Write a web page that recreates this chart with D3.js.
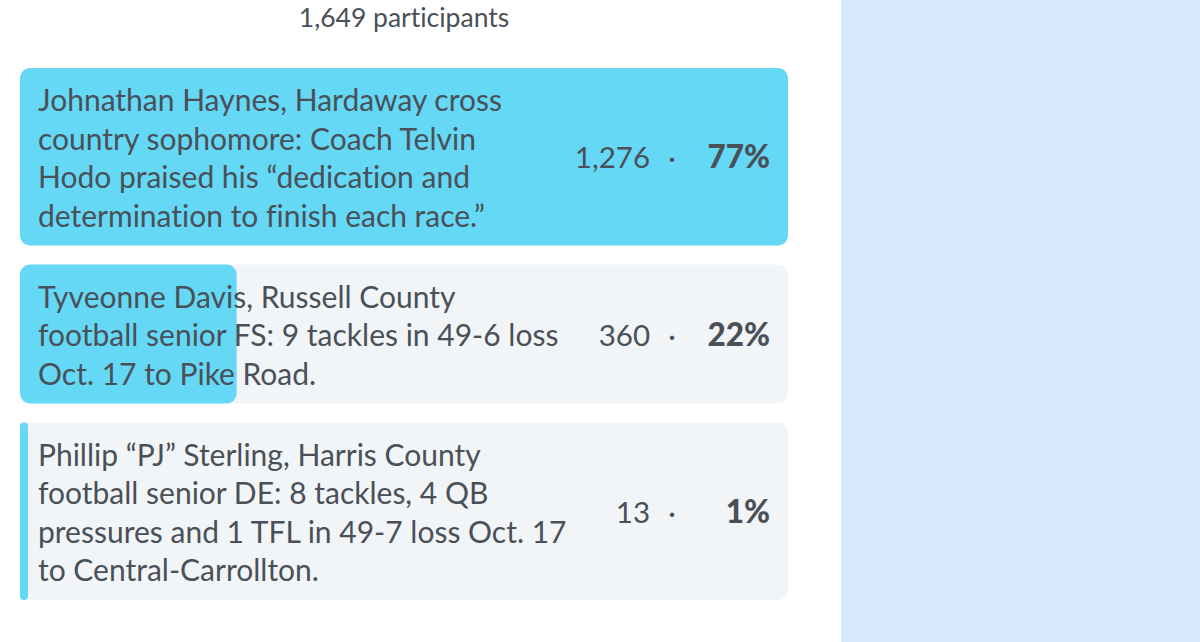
<!DOCTYPE html>
<html><head><meta charset="utf-8">
<script src="https://cdn.jsdelivr.net/npm/d3@7"></script>
<style>
html,body{margin:0;padding:0;background:#fff;}
svg{display:block;}
text{font-variant-ligatures:none;}
</style></head>
<body>
<script>
const totalParticipants = 1649;
const optionLabels = [
  ["Johnathan Haynes, Hardaway cross", "country sophomore: Coach Telvin", "Hodo praised his \u201cdedication and", "determination to finish each race.\u201d"],
  ["Tyveonne Davis, Russell County", "football senior FS: 9 tackles in 49-6 loss", "Oct. 17 to Pike Road."],
  ["Phillip \u201cPJ\u201d Sterling, Harris County", "football senior DE: 8 tackles, 4 QB", "pressures and 1 TFL in 49-7 loss Oct. 17", "to Central-Carrollton."]
];
const voteCounts = [1276, 360, 13];
const votePercents = [77, 22, 1];

const W = 1200, H = 642;
const svg = d3.select("body").append("svg").attr("width", W).attr("height", H);
svg.append("rect").attr("x", 0).attr("y", 0).attr("width", 841).attr("height", H).attr("fill", "#ffffff");
svg.append("rect").attr("x", 841).attr("y", 0).attr("width", W - 841).attr("height", H).attr("fill", "#d5e8fd");

const textColor = "#4a5058";
const fmt = d3.format(",");
const labelFont = "Lato, sans-serif";

svg.append("text").attr("x", 404).attr("y", 27).attr("text-anchor", "middle")
  .attr("font-family", labelFont).attr("font-size", 26.5).attr("fill", textColor)
  .text(fmt(totalParticipants) + " participants");

const rowX = 20, rowW = 768, lineH = 38.5, padV = 23.5, gap = 19, top0 = 68;
const x = d3.scaleLinear().domain([0, d3.max(voteCounts)]).range([0, rowW]);

let yCur = top0;
const rows = optionLabels.map((lines, i) => {
  const h = lines.length * lineH + padV;
  const r = {lines, votes: voteCounts[i], pct: votePercents[i], y: yCur, h};
  yCur += h + gap;
  return r;
});

const g = svg.selectAll("g.row").data(rows).join("g").attr("class", "row")
  .attr("transform", d => `translate(${rowX},${d.y})`);

g.append("rect").attr("width", rowW).attr("height", d => d.h).attr("rx", 10).attr("fill", "#f2f5f7");
g.append("rect").attr("width", d => Math.max(8, x(d.votes))).attr("height", d => d.h)
  .attr("rx", d => Math.min(10, Math.max(8, x(d.votes)) / 2)).attr("fill", "#64d8f5");

g.each(function(d) {
  const sel = d3.select(this);
  const t = sel.append("text").attr("font-family", labelFont).attr("font-size", 30).attr("fill", textColor);
  d.lines.forEach((ln, j) => {
    t.append("tspan").attr("x", 18).attr("y", 43 + j * lineH).text(ln);
  });
  const cy = d.h / 2 + 11.5;
  sel.append("text").attr("x", 630).attr("y", cy).attr("text-anchor", "end")
    .attr("font-family", "Lato, sans-serif").attr("font-size", 29.5).attr("fill", textColor).text(fmt(d.votes));
  sel.append("text").attr("x", 652).attr("y", cy).attr("text-anchor", "middle")
    .attr("font-family", "Lato, sans-serif").attr("font-size", 29).attr("fill", textColor).text("\u00b7");
  sel.append("text").attr("x", 750).attr("y", cy).attr("text-anchor", "end")
    .attr("font-family", "Lato, sans-serif").attr("font-weight", 900).attr("font-size", 31.5).attr("fill", textColor).text(d.pct + "%");
});
</script>
</body></html>
